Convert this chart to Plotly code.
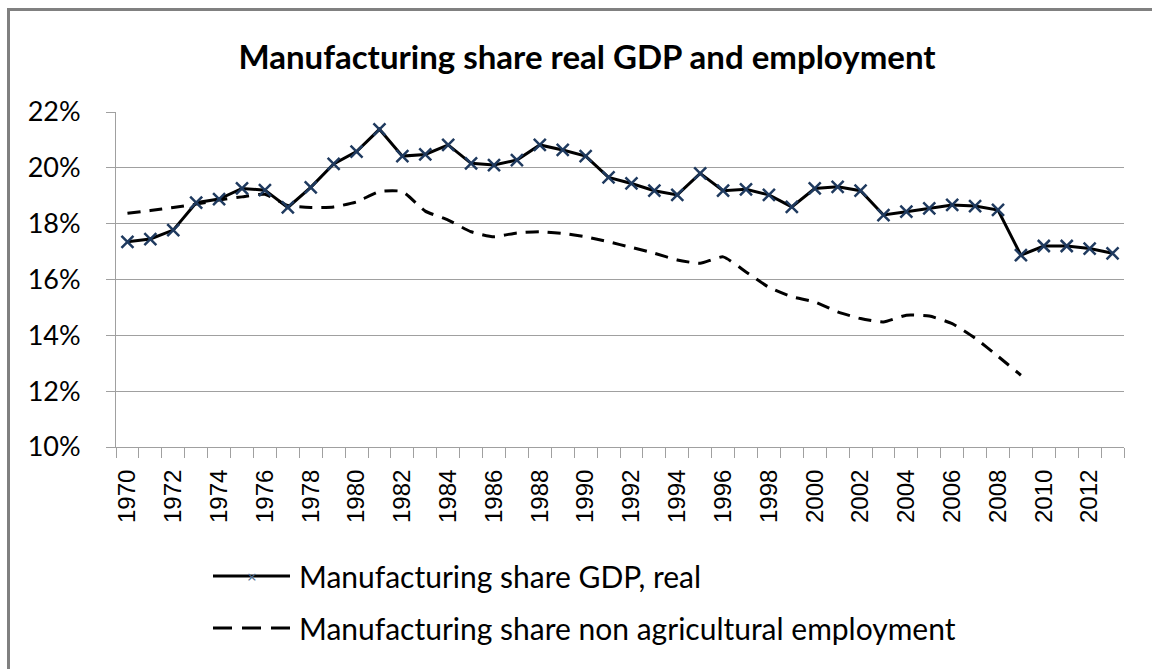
import plotly.graph_objects as go

# Years on the category axis
years = list(range(1970, 2014))

# Manufacturing share of real GDP, percent (1970-2013)
gdp_share = [17.35, 17.45, 17.77, 18.75, 18.88, 19.26, 19.20, 18.58, 19.30, 20.14,
             20.58, 21.38, 20.42, 20.48, 20.82, 20.16, 20.10, 20.28, 20.82, 20.64,
             20.42, 19.66, 19.44, 19.18, 19.03, 19.80, 19.18, 19.23, 19.03, 18.60,
             19.26, 19.32, 19.18, 18.31, 18.43, 18.55, 18.67, 18.63, 18.49, 16.87,
             17.20, 17.20, 17.11, 16.94]

# Manufacturing share of non agricultural employment, percent (1970-2009)
emp_years = list(range(1970, 2010))
emp_share = [18.37, 18.47, 18.58, 18.70, 18.85, 18.96, 19.05, 18.65, 18.58, 18.60,
             18.78, 19.15, 19.15, 18.45, 18.13, 17.71, 17.53, 17.67, 17.71, 17.65,
             17.53, 17.35, 17.15, 16.94, 16.70, 16.58, 16.81, 16.27, 15.72, 15.38,
             15.20, 14.84, 14.60, 14.48, 14.72, 14.69, 14.42, 13.90, 13.25, 12.57]

y_ticks = [10, 12, 14, 16, 18, 20, 22]
y_tick_text = [f"{v}%" for v in y_ticks]
x_label_years = list(range(1970, 2013, 2))

name_gdp = "Manufacturing share GDP, real"
name_emp = "Manufacturing share non agricultural employment"

W, H = 1152, 669
ML, MR, MT, MB = 116, 28, 112, 222
PW, PH = W - ML - MR, H - MT - MB

def px_x(x):
    return (x - ML) / PW

def px_y(y):
    return (H - MB - y) / PH

GRID = "#A0A0A0"
MARK = "#1F3A5F"
FONT = "Lato, Calibri, sans-serif"

fig = go.Figure()

fig.add_trace(go.Scatter(
    x=emp_years, y=emp_share, mode="lines", name=name_emp,
    line=dict(color="black", width=3, dash="13px,9px", shape="spline", smoothing=0.5),
    showlegend=False,
))
fig.add_trace(go.Scatter(
    x=years, y=gdp_share, mode="lines+markers", name=name_gdp,
    line=dict(color="black", width=3),
    marker=dict(symbol="x-thin", size=12, color=MARK, line=dict(color=MARK, width=2.5)),
    showlegend=False,
))

# chart frame
fig.add_shape(type="rect", xref="paper", yref="paper",
              x0=px_x(8.5), x1=1.2, y0=-1.0, y1=px_y(9.5),
              line=dict(color="#808080", width=3), layer="below")

# legend drawn below the axis
leg_font = dict(family=FONT, size=30, color="black")
for yy, dash in [(576, "solid"), (628, "19px,10px")]:
    fig.add_shape(type="line", xref="paper", yref="paper",
                  x0=px_x(213), x1=px_x(290), y0=px_y(yy), y1=px_y(yy),
                  line=dict(color="black", width=3, dash=dash))
fig.add_annotation(x=px_x(252), y=px_y(576), xref="paper", yref="paper",
                   text="×", showarrow=False, font=dict(size=17, color="#4A6A8F"),
                   xanchor="center", yanchor="middle")
fig.add_annotation(x=px_x(297), y=px_y(576), xref="paper", yref="paper",
                   text=name_gdp, showarrow=False, font=leg_font,
                   xanchor="left", yanchor="middle")
fig.add_annotation(x=px_x(297), y=px_y(628), xref="paper", yref="paper",
                   text=name_emp, showarrow=False, font=leg_font,
                   xanchor="left", yanchor="middle")

fig.update_layout(
    width=W, height=H,
    margin=dict(l=ML, r=MR, t=MT, b=MB, autoexpand=False),
    paper_bgcolor="white", plot_bgcolor="white",
    title=dict(text="<b>Manufacturing share real GDP and employment</b>",
               x=587 / W, xref="container", xanchor="center",
               y=1 - 57 / H, yref="container", yanchor="middle",
               font=dict(family=FONT, size=33, color="black")),
    showlegend=False,
)

fig.update_xaxes(
    range=[1969.5, 2013.5],
    tickmode="array", tickvals=x_label_years, ticktext=[str(v) for v in x_label_years],
    ticks="", tickangle=-90, ticklabelstandoff=12,
    tickfont=dict(family="Liberation Sans, Arial, sans-serif", size=24, color="black"),
    showgrid=False, zeroline=False,
    showline=True, linecolor=GRID, linewidth=1,
    minor=dict(tick0=1969.5, dtick=1, ticks="outside", ticklen=10,
               tickcolor=GRID, tickwidth=1, showgrid=False),
)
fig.update_yaxes(
    range=[10, 22], tickmode="array", tickvals=y_ticks, ticktext=y_tick_text,
    ticks="outside", ticklen=9, tickcolor=GRID, tickwidth=1,
    ticklabelstandoff=20,
    tickfont=dict(family=FONT, size=27, color="black"),
    showgrid=True, gridcolor=GRID, gridwidth=1, zeroline=False,
    showline=True, linecolor=GRID, linewidth=1,
)

fig.write_html("out.html")
